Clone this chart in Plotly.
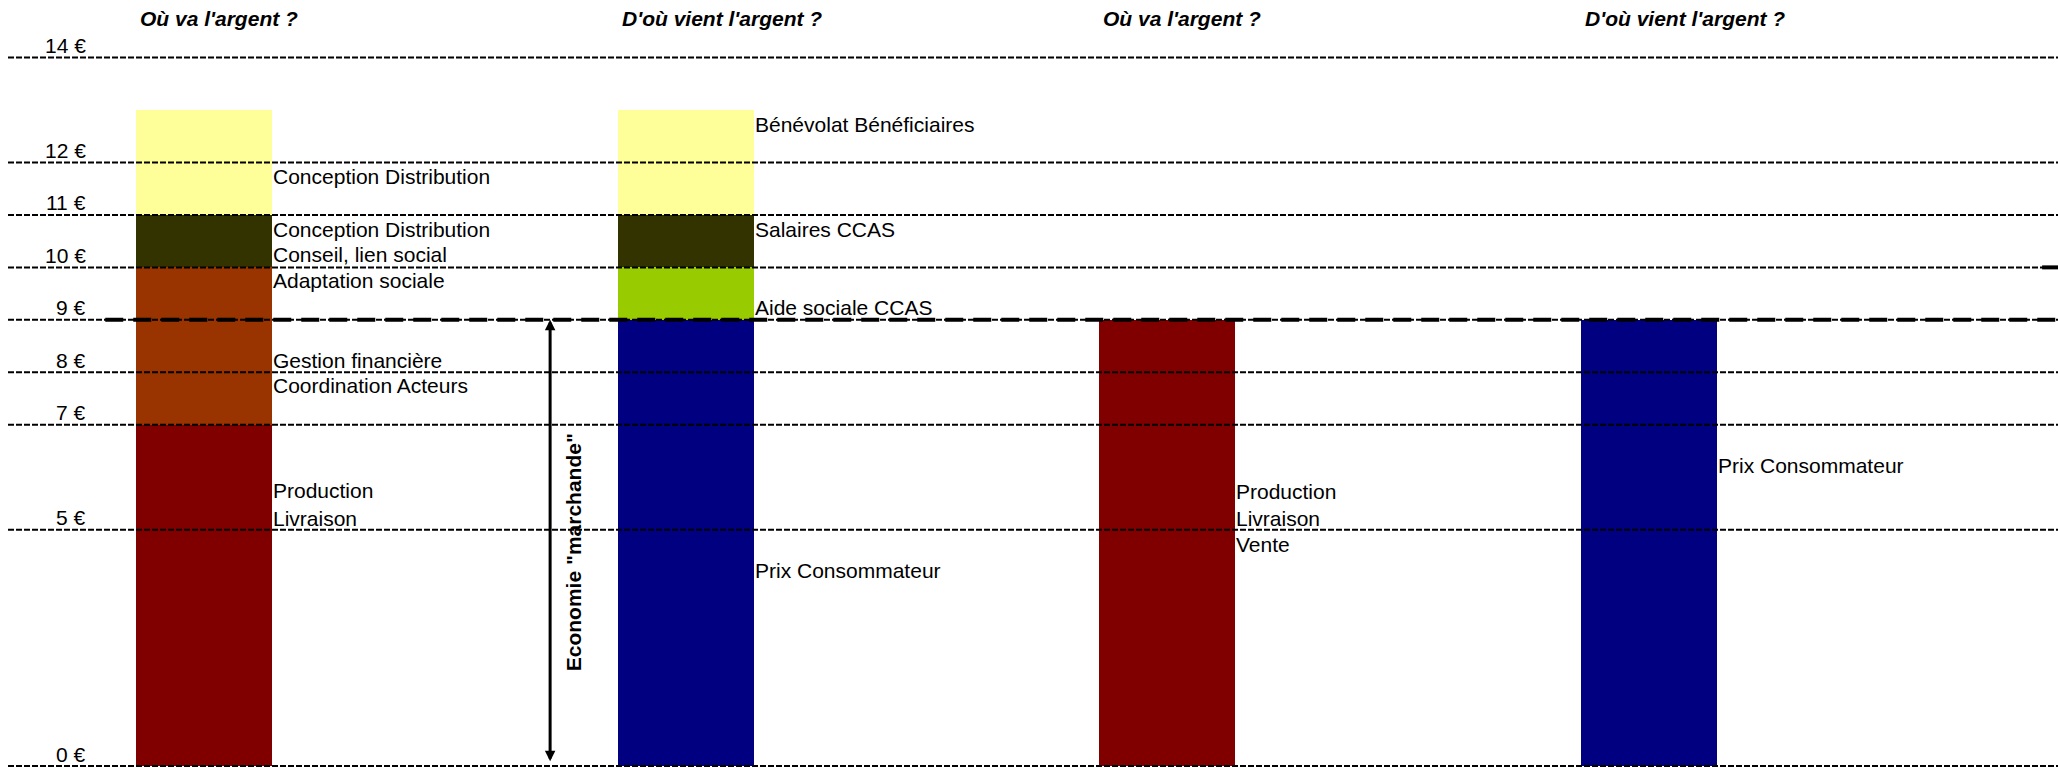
import plotly.graph_objects as go

# ---------------- data ----------------
columns = ["Solidaire - emplois", "Solidaire - ressources", "Marchand - emplois", "Marchand - ressources"]
column_titles = ["Où va l'argent ?", "D'où vient l'argent ?", "Où va l'argent ?", "D'où vient l'argent ?"]

production_livraison = [7, None, 9, None]
prix_consommateur = [None, 9, None, 9]
adaptation_gestion = [3, None, None, None]
aide_sociale = [None, 1, None, None]
conseil_salaires = [1, 1, None, None]
conception_benevolat = [2, 2, None, None]

series_names = ["Production, livraison", "Prix consommateur", "Adaptation, gestion, coordination",
                "Aide sociale CCAS", "Conseil / Salaires CCAS", "Conception distribution / Bénévolat"]
series_values = [production_livraison, prix_consommateur, adaptation_gestion,
                 aide_sociale, conseil_salaires, conception_benevolat]
series_colors = ["#800000", "#000080", "#993300", "#99CC00", "#333300", "#FFFF99"]

tick_values = [0, 5, 7, 8, 9, 10, 11, 12, 14]
tick_labels = ["0 €", "5 €", "7 €", "8 €", "9 €", "10 €", "11 €", "12 €", "14 €"]

# segment labels: column index, level (€), text
label_columns = [0, 0, 0, 0, 0, 0, 0, 0,
                 1, 1, 1, 1,
                 2, 2, 2,
                 3]
label_levels = [11.73, 10.73, 10.24, 9.75, 8.23, 7.74, 5.74, 5.22,
                12.73, 10.73, 9.24, 4.23,
                5.72, 5.22, 4.72,
                6.23]
label_texts = ["Conception Distribution", "Conception Distribution", "Conseil, lien social",
               "Adaptation sociale", "Gestion financière", "Coordination Acteurs",
               "Production", "Livraison",
               "Bénévolat Bénéficiaires", "Salaires CCAS", "Aide sociale CCAS", "Prix Consommateur",
               "Production", "Livraison", "Vente",
               "Prix Consommateur"]

market_level = 9  # limite de l'économie "marchande"
market_text = 'Economie "marchande"'

# ---------------- layout constants ----------------
W, H = 2058, 768
ML, MR, MT, MB = 8, 0, 0, 2
x_range = [-0.408, 3.850]
y_range = [0.497, 15.096]
bar_width = 0.2825
FONT = "Arial, 'Liberation Sans', sans-serif"
FS = 21

fig = go.Figure()
for name, vals, col in zip(series_names, series_values, series_colors):
    fig.add_trace(go.Bar(x=columns, y=vals, name=name, width=bar_width,
                         marker=dict(color=col, line=dict(width=0)),
                         hoverinfo="name+y"))

shapes = []
annotations = []

# dashed grid lines (drawn above the bars, as in the original)
for v, lab in zip(tick_values, tick_labels):
    if v < y_range[0]:
        shapes.append(dict(type="line", xref="paper", yref="paper", x0=0, x1=1, y0=0, y1=0,
                           line=dict(color="black", width=2, dash="6px,2px"), layer="above"))
        annotations.append(dict(xref="paper", yref="paper", x=0.039, y=0, text=lab,
                                showarrow=False, xanchor="right", yanchor="middle", yshift=12,
                                font=dict(family=FONT, size=FS, color="black")))
    else:
        shapes.append(dict(type="line", xref="paper", yref="y", x0=0, x1=1, y0=v, y1=v,
                           line=dict(color="black", width=2, dash="6px,2px"), layer="above"))
        annotations.append(dict(xref="paper", yref="y", x=0.039, y=v, text=lab,
                                showarrow=False, xanchor="right", yanchor="middle", yshift=12,
                                font=dict(family=FONT, size=FS, color="black")))

# heavy dashed line marking the market limit
shapes.append(dict(type="line", xref="x", yref="y", x0=-0.206, x1=x_range[1],
                   y0=market_level, y1=market_level,
                   line=dict(color="black", width=4, dash="18px,10px"), layer="above"))
# fragment of a heavy line at the right edge
shapes.append(dict(type="line", xref="x", yref="y", x0=3.817, x1=x_range[1], y0=10, y1=10,
                   line=dict(color="black", width=4), layer="above"))

# column titles
for c, t in zip(columns, column_titles):
    annotations.append(dict(xref="x", yref="paper", x=c, y=1, text="<b><i>" + t + "</i></b>",
                            showarrow=False, xanchor="left", yanchor="top", xshift=-66, yshift=-5,
                            font=dict(family=FONT, size=FS, color="black")))

# segment labels
for ci, lv, txt in zip(label_columns, label_levels, label_texts):
    annotations.append(dict(xref="x", yref="y", x=columns[ci], y=lv, text=txt,
                            showarrow=False, xanchor="left", yanchor="middle", xshift=67,
                            font=dict(family=FONT, size=FS, color="black")))

# double arrow for the market economy
annotations.append(dict(xref="x", yref="y", x=0.718, y=market_level, ax=0.718, ay=0.56,
                        axref="x", ayref="y", text="", showarrow=True,
                        arrowhead=2, startarrowhead=2, arrowside="end+start",
                        arrowsize=0.7, startarrowsize=0.7, arrowwidth=3, arrowcolor="black",
                        standoff=0, startstandoff=0))
annotations.append(dict(xref="x", yref="y", x=0.766, y=4.575, text="<b>" + market_text + "</b>",
                        textangle=-90, showarrow=False, xanchor="center", yanchor="middle",
                        font=dict(family=FONT, size=FS, color="black")))

fig.update_layout(
    width=W, height=H, barmode="stack", showlegend=False,
    margin=dict(l=ML, r=MR, t=MT, b=MB, pad=0),
    paper_bgcolor="white", plot_bgcolor="white",
    xaxis=dict(range=x_range, showgrid=False, showticklabels=False, zeroline=False,
               showline=False, ticks="", fixedrange=True),
    yaxis=dict(range=y_range, showgrid=False, showticklabels=False, zeroline=False,
               showline=False, ticks="", fixedrange=True),
    shapes=shapes, annotations=annotations,
    font=dict(family=FONT, size=FS, color="black"),
)

fig.write_html("out.html", config={"displayModeBar": False},
               post_script="document.body.style.margin='0';document.body.style.overflow='hidden';")
